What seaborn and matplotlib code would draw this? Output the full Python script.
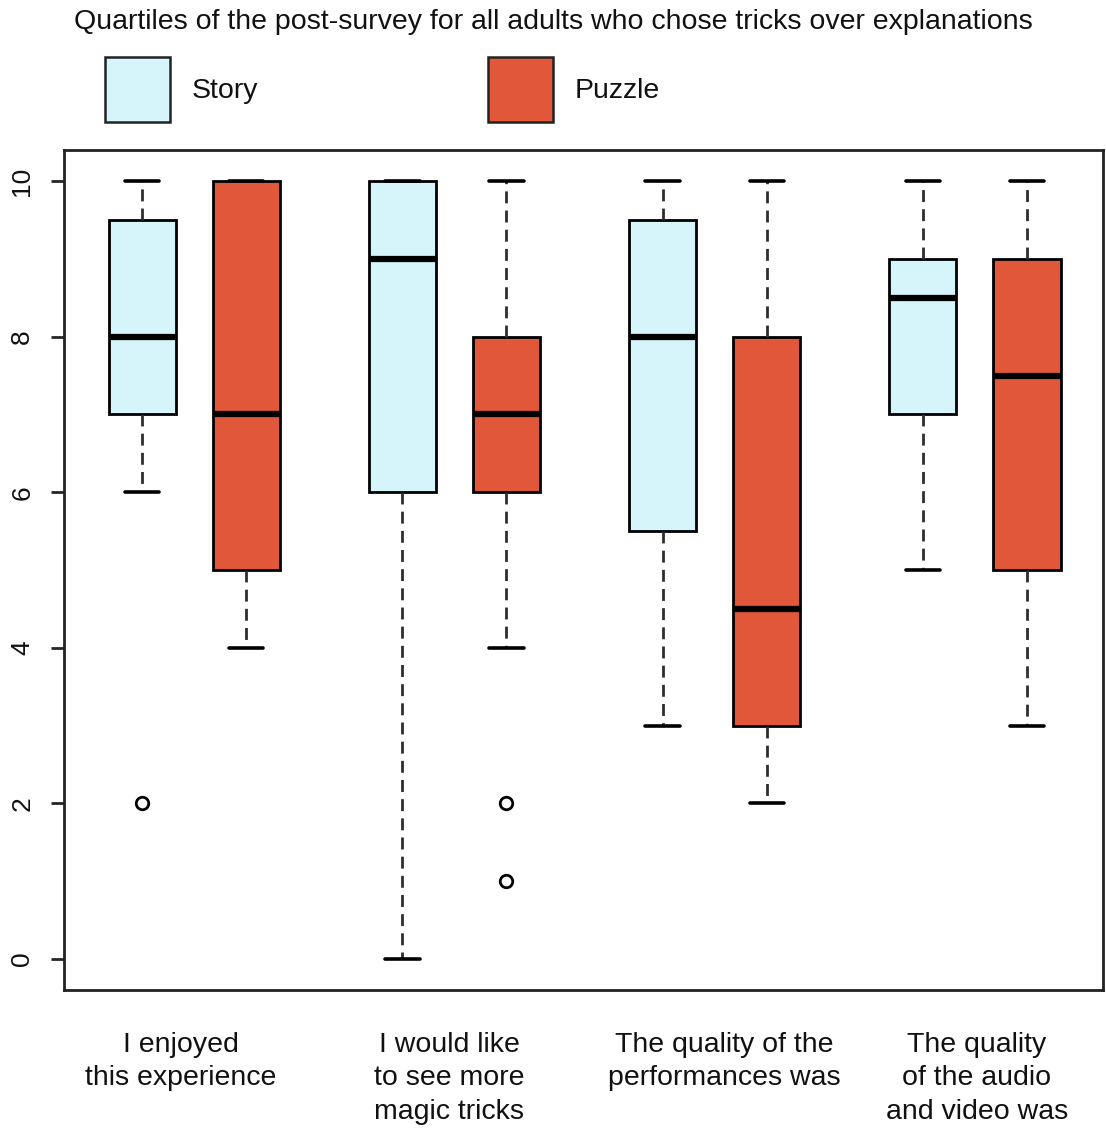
import numpy as np
import pandas as pd
import matplotlib
matplotlib.use("Agg")
import matplotlib.pyplot as plt
from matplotlib.patches import Patch
import seaborn as sns

# Post-survey responses (0-10 scale) per question and condition
questions = [
    "I enjoyed\nthis experience",
    "I would like\nto see more\nmagic tricks",
    "The quality of the\nperformances was",
    "The quality\nof the audio\nand video was",
]
conditions = ["Story", "Puzzle"]

enjoyed_story = [2, 6, 7, 7, 7, 8, 8, 9, 10, 10, 10]
enjoyed_puzzle = [4, 5, 5, 6, 7, 8, 10, 10, 10]
more_tricks_story = [0, 6, 6, 8, 9, 10, 10, 10, 10]
more_tricks_puzzle = [1, 2, 4, 6, 6, 7, 7, 7, 8, 8, 8, 9, 10]
performance_story = [3, 4, 5, 6, 7, 8, 8, 9, 10, 10, 10]
performance_puzzle = [2, 3, 3, 3, 4, 5, 8, 8, 9, 10]
audio_video_story = [5, 7, 7, 7, 8, 9, 9, 9, 10, 10]
audio_video_puzzle = [3, 5, 5, 5, 7, 8, 9, 9, 10, 10]

responses = [
    (enjoyed_story, enjoyed_puzzle),
    (more_tricks_story, more_tricks_puzzle),
    (performance_story, performance_puzzle),
    (audio_video_story, audio_video_puzzle),
]

colors = {"Story": "#D6F5FA", "Puzzle": "#E0573A"}

# Long-format table; boxes sit in pairs with a wider gap between questions
rows = []
for qi, pair in enumerate(responses):
    for ci, (cond, vals) in enumerate(zip(conditions, pair)):
        pos = 1 + 2.5 * qi + ci
        for v in vals:
            rows.append({"pos": pos, "condition": cond, "score": v})
df = pd.DataFrame(rows)

sns.set_style("ticks")
plt.rcParams["font.family"] = ["Liberation Sans", "DejaVu Sans"]

FS = 20.5

fig = plt.figure(figsize=(11.06, 11.31), dpi=100)
ax = fig.add_axes([0.0579, 0.1247, 0.9394, 0.7427])

sns.boxplot(
    data=df, x="pos", y="score", hue="condition",
    hue_order=conditions, palette=colors, native_scale=True,
    dodge=False, width=0.645, gap=0, saturation=1, whis=1.5,
    linecolor="black", linewidth=2.0, legend=False, ax=ax,
    medianprops=dict(linewidth=4.5, color="black", solid_capstyle="butt"),
    whiskerprops=dict(linewidth=2.0, color="#2e2e2e", linestyle=(0, (4.3, 2.6))),
    capprops=dict(linewidth=2.6, color="black"),
    flierprops=dict(marker="o", markerfacecolor="none", markeredgecolor="black",
                    markersize=9, markeredgewidth=2),
    capwidths=0.33,
)

ax.set_xlim(0.25, 10.23)
ax.set_ylim(-0.4, 10.4)
ax.set_xlabel("")
ax.set_ylabel("")

label_pos = [1.37, 3.95, 6.59, 9.02]
ax.set_xticks(label_pos, labels=questions)
ax.tick_params(axis="x", length=0, pad=30, labelsize=FS, labelcolor="#111111")
for t in ax.get_xticklabels():
    t.set_linespacing(1.38)

ax.set_yticks(np.arange(0, 11, 2))
ax.tick_params(axis="y", length=9.4, width=2, pad=12, labelsize=19,
               labelrotation=90, labelcolor="#111111")
for t in ax.get_yticklabels():
    t.set_va("center")

for side in ["left", "right", "top", "bottom"]:
    ax.spines[side].set_visible(True)
    ax.spines[side].set_linewidth(2)
    ax.spines[side].set_color("#222222")

fig.text(0.5, 1 - 29 / 1131,
         "Quartiles of the post-survey for all adults who chose tricks over explanations",
         ha="center", va="baseline", fontsize=FS, color="#111111")

handles = [Patch(facecolor=colors[c], edgecolor="#222222", linewidth=1.8) for c in conditions]
fig.legend(handles, conditions, loc="upper left",
           bbox_to_anchor=(105 / 1106, 1 - 57 / 1131), ncol=2, frameon=False,
           fontsize=FS, handlelength=2.28, handleheight=3.13, handletextpad=0.75,
           columnspacing=8.1, borderaxespad=0, borderpad=0, labelcolor="#111111")

fig.savefig("out.png", dpi=100)
